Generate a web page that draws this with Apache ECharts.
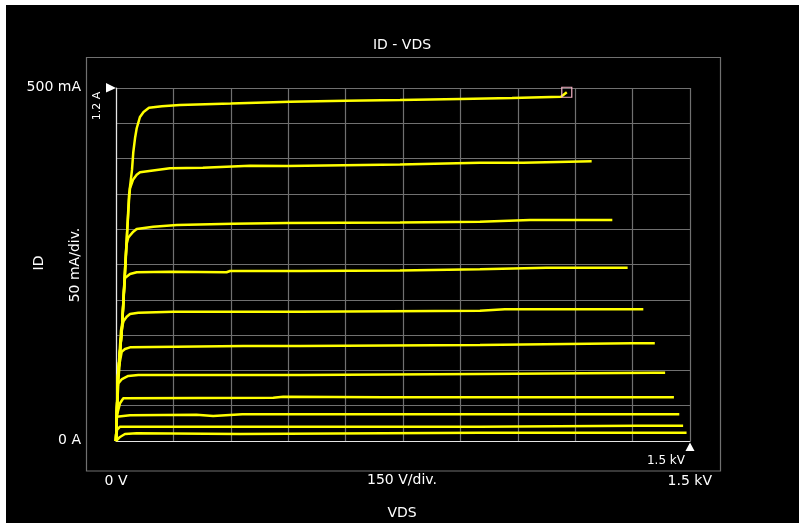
<!DOCTYPE html>
<html>
<head>
<meta charset="utf-8">
<script src="https://cdn.jsdelivr.net/npm/echarts@6/dist/echarts.min.js"></script>
<style>
html,body{margin:0;padding:0;background:#fff;width:803px;height:528px;overflow:hidden;}
#c{position:absolute;left:6px;top:5px;width:793px;height:518px;background:#000;}
</style>
</head>
<body>
<div id="c"></div>
<script>
// Axis settings (VDS in volts, ID in mA)
const xMin = 0, xMax = 1500, xStep = 150;
const yMin = 0, yMax = 500, yStep = 50;

// Texts
const titleText = 'ID - VDS';
const xName = 'VDS';
const yName = 'ID';
const xLeftLabel = '0 V';
const xMidLabel = '150 V/div.';
const xRightLabel = '1.5 kV';
const yTopLabel = '500 mA';
const yBottomLabel = '0 A';
const yMidLabel = '50 mA/div.';
const innerYLabel = '1.2 A';
const innerXLabel = '1.5 kV';

// Measured ID-VDS curves: [VDS (V), ID (mA)]
const curve1 = [[0,0],[5,91],[16,161],[23.5,242],[28.7,292],[34,348],[41.8,384],[45.2,409],[50,430],[54.1,443],[62.7,459],[72,466],[86.2,472],[120,474],[167,476],[300,478],[455,480.6],[600,482],[742,483],[900,484.5],[1035,485.8],[1040,487.7],[1163,487.7],[1168,490],[1178,494]];
const curve2 = [[0,0],[5.2,90.7],[15.7,161.5],[23.5,242],[28.7,292],[34,341],[36.6,358],[44.4,370],[54.1,377],[62.7,380.6],[87,382.4],[141,386.3],[227,387.1],[350,389.9],[447,389.5],[742,391.6],[951,394.2],[1064,394.2],[1069,396.2],[1243,396.2]];
const curve3 = [[0,0],[5.2,90.7],[15.7,161.5],[23.5,235],[27.4,278],[32,288],[36.6,291],[45.2,296.5],[54.1,300.3],[97.5,303.5],[158.6,305.9],[305.7,307.8],[446.8,308.8],[742,309.5],[951,310.6],[1082,313],[1297,313]];
const curve4 = [[0,0],[5.2,90.7],[15.7,161.5],[20.9,214],[23.5,231],[36.6,236.5],[54.1,239],[141,239.8],[289,239],[298,240.8],[481,240.8],[742,241.5],[951,243.2],[1125,245.5],[1337,245.5]];
const curve5 = [[0,0],[5.2,90.7],[13.1,157],[20,170],[28,176],[36.6,179.9],[58.3,181.7],[150,183.1],[481,183.1],[951,184.6],[1016,186.5],[1378,186.5]];
const curve6 = [[0,0],[3.9,72],[10,112],[14.9,126.5],[23.5,130.3],[36.6,132.7],[333,134.6],[481,134.6],[951,136],[1348,138.4],[1408,138.4]];
const curve7 = [[0,0],[2.6,44],[6,81.7],[15.7,87.8],[32,92.1],[58.3,93.5],[481,93.5],[951,94.9],[1404,96.7],[1435,96.7]];
const curve8 = [[0,0],[2.6,36.8],[10.5,53.4],[19.1,60.5],[411,61.3],[437,62.7],[700,62],[951,61.9],[1458,61.9]];
const curve9 = [[0,0],[1.8,34.4],[36.6,36.4],[210,37.3],[254,35.4],[330,37.8],[951,37.8],[1472,37.8]];
const curve10 = [[0,0],[2.6,15.6],[10.5,20.3],[951,20.3],[1361,21.7],[1482,21.7]];
const curve11 = [[0,0],[10.5,5.7],[23.5,9.9],[54.1,10.9],[324,9.9],[951,11.8],[1491,11.8]];
const curves = [curve1,curve2,curve3,curve4,curve5,curve6,curve7,curve8,curve9,curve10,curve11];

const chart = echarts.init(document.getElementById('c'), null, {renderer:'canvas'});
const font14 = '14px "DejaVu Sans"';
const font11 = '11px "DejaVu Sans"';
const white = '#ffffff';

function txt(text, x, y, align, font, rot){
  return {type:'text', x:x, y:y, rotation:rot||0, z:100,
    style:{text:text, fill:white, font:font, textAlign:align, textVerticalAlign:'middle', align:align, verticalAlign:'middle'}};
}

const series = curves.map((c, i) => {
  const s = {type:'line', data:c, showSymbol:false, symbol:'none', animation:false,
    lineStyle:{color:'#ffff00', width:2.5}, z:3};
  if (i === 0) {
    s.markPoint = {symbol:'rect', symbolSize:10, silent:true, animation:false,
      label:{show:false}, itemStyle:{color:'rgba(0,0,0,0)', borderColor:'#f6b4c6', borderWidth:1.2},
      data:[{coord:c[c.length-1]}]};
  }
  return s;
});

chart.setOption({
  backgroundColor:'#000',
  animation:false,
  grid:{left:110, right:109, top:83, bottom:82, containLabel:false},
  xAxis:{type:'value', min:xMin, max:xMax, interval:xStep,
    axisLine:{show:true, onZero:false, lineStyle:{color:'#e6e6e6', width:1.2}},
    axisTick:{show:false}, axisLabel:{show:false},
    splitLine:{show:true, lineStyle:{color:'#707070', width:1.2}}},
  yAxis:{type:'value', min:yMin, max:yMax, interval:yStep,
    axisLine:{show:true, onZero:false, lineStyle:{color:'#e6e6e6', width:1.2}},
    axisTick:{show:false}, axisLabel:{show:false},
    splitLine:{show:true, lineStyle:{color:'#707070', width:1.2}}},
  series:series,
  graphic:[
    {type:'rect', shape:{x:80.5, y:52.5, width:634, height:413.5}, z:1,
      style:{fill:null, stroke:'#707070', lineWidth:1.2}},
    txt(titleText, 396, 40, 'center', font14),
    txt(yTopLabel, 75, 82, 'right', font14),
    txt(yBottomLabel, 75, 435.5, 'right', font14),
    txt(xLeftLabel, 110, 476.5, 'center', font14),
    txt(xMidLabel, 396, 475.5, 'center', font14),
    txt(xRightLabel, 706, 476.5, 'right', font14),
    txt(xName, 396, 508, 'center', font14),
    txt(yName, 33, 258, 'center', font14, Math.PI/2),
    txt(yMidLabel, 69, 260, 'center', font14, Math.PI/2),
    txt(innerYLabel, 91, 101, 'center', font11, Math.PI/2),
    txt(innerXLabel, 679, 455.5, 'right', '12px "DejaVu Sans"'),
    {type:'polygon', z:100, shape:{points:[[100,78],[110,83],[100,87.5]]}, style:{fill:'#ffffff'}},
    {type:'polygon', z:100, shape:{points:[[684,437.5],[688.5,446],[679.5,446]]}, style:{fill:'#ffffff'}}
  ]
});
</script>
</body>
</html>
